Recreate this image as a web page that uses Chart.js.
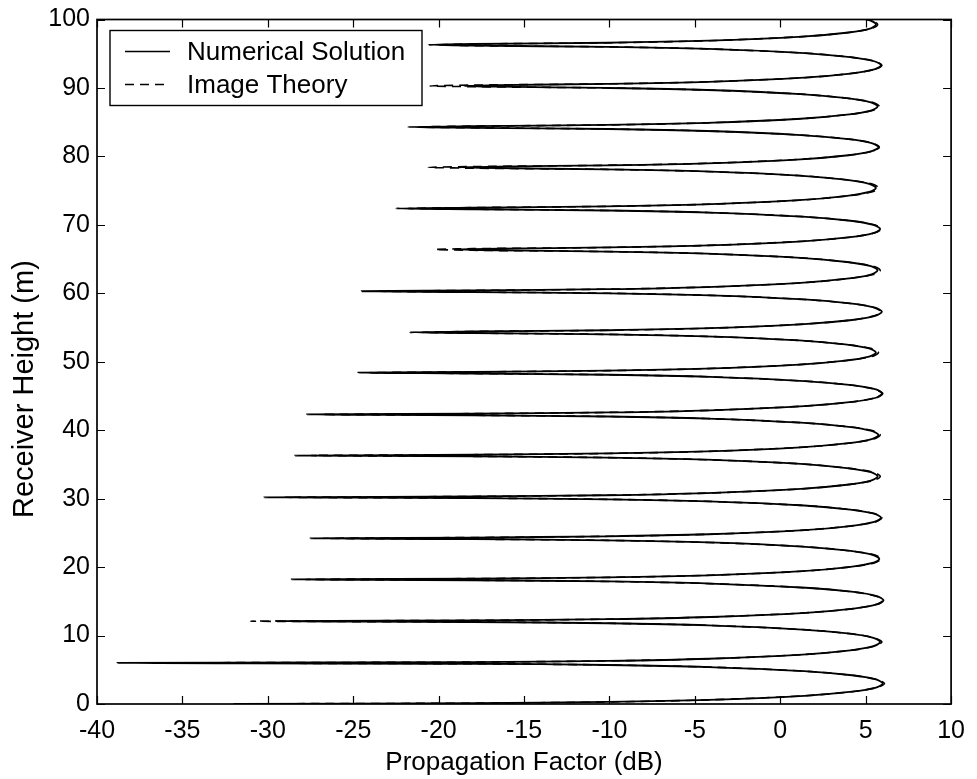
<!DOCTYPE html>
<html><head><meta charset="utf-8">
<script src="https://cdn.jsdelivr.net/npm/chart.js@4.4.1/dist/chart.umd.min.js"></script>
<style>html,body{margin:0;padding:0;background:#fff;}#wrap{width:977px;height:779px;}</style>
</head><body><div id="wrap"><canvas id="c" width="977" height="779"></canvas></div>
<script>
const seriesNames = ['Numerical Solution', 'Image Theory'];
const xTitle = 'Propagation Factor (dB)';
const yTitle = 'Receiver Height (m)';
const xRange = [-40, 10];
const yRange = [0, 100];

// receiver heights (m) shared by both curves
const heights = [
0.03, 0.12, 0.3, 0.6, 1.2, 1.8, 2.4, 3.0, 3.6, 4.2, 4.8, 5.4, 5.7, 5.88,
6.0, 6.12, 6.3, 6.61, 7.22, 7.83, 8.44, 9.05, 9.66, 10.27, 10.88, 11.49, 11.8, 11.98,
12.1, 12.22, 12.4, 12.71, 13.32, 13.93, 14.54, 15.15, 15.76, 16.37, 16.98, 17.59, 17.9, 18.08,
18.2, 18.32, 18.5, 18.8, 19.4, 20.0, 20.6, 21.2, 21.8, 22.4, 23.0, 23.6, 23.9, 24.08,
24.2, 24.32, 24.5, 24.8, 25.4, 26.0, 26.6, 27.2, 27.8, 28.4, 29.0, 29.6, 29.9, 30.08,
30.2, 30.32, 30.5, 30.81, 31.42, 32.03, 32.64, 33.25, 33.86, 34.47, 35.08, 35.69, 36.0, 36.18,
36.3, 36.42, 36.6, 36.9, 37.5, 38.1, 38.7, 39.3, 39.9, 40.5, 41.1, 41.7, 42.0, 42.18,
42.3, 42.42, 42.6, 42.91, 43.52, 44.13, 44.74, 45.35, 45.96, 46.57, 47.18, 47.79, 48.1, 48.28,
48.4, 48.52, 48.7, 48.99, 49.58, 50.17, 50.76, 51.35, 51.94, 52.53, 53.12, 53.71, 54.0, 54.18,
54.3, 54.42, 54.6, 54.9, 55.5, 56.1, 56.7, 57.3, 57.9, 58.5, 59.1, 59.7, 60.0, 60.18,
60.3, 60.42, 60.6, 60.91, 61.52, 62.13, 62.74, 63.35, 63.96, 64.57, 65.18, 65.79, 66.1, 66.28,
66.4, 66.52, 66.7, 67.0, 67.6, 68.2, 68.8, 69.4, 70.0, 70.6, 71.2, 71.8, 72.1, 72.28,
72.4, 72.52, 72.7, 73.0, 73.6, 74.2, 74.8, 75.4, 76.0, 76.6, 77.2, 77.8, 78.1, 78.28,
78.4, 78.52, 78.7, 78.99, 79.58, 80.17, 80.76, 81.35, 81.94, 82.53, 83.12, 83.71, 84.0, 84.18,
84.3, 84.42, 84.6, 84.9, 85.5, 86.1, 86.7, 87.3, 87.9, 88.5, 89.1, 89.7, 90.0, 90.18,
90.3, 90.42, 90.6, 90.9, 91.5, 92.1, 92.7, 93.3, 93.9, 94.5, 95.1, 95.7, 96.0, 96.18,
96.3, 96.42, 96.6, 96.9, 97.5, 98.1, 98.7, 99.3, 99.9, 100.5
];

// propagation factor (dB), numerical solution
const numerical = [
-32, -18, -10.1, -4.2, 1.4, 4.2, 5.6, 6.0, 5.6, 4.2, 1.4, -4.2, -10.1, -18,
-38.8, -18, -10.1, -4.2, 1.3, 4.1, 5.45, 5.85, 5.45, 4.1, 1.3, -4.2, -10.1, -18,
-29.5, -18, -10, -4.1, 1.5, 4.3, 5.65, 6.05, 5.65, 4.3, 1.5, -4.1, -10, -18,
-28.6, -18, -10.1, -4.2, 1.3, 4.0, 5.4, 5.8, 5.4, 4.0, 1.3, -4.2, -10.1, -18,
-27.5, -18, -10.1, -4.2, 1.4, 4.1, 5.5, 5.9, 5.5, 4.1, 1.4, -4.2, -10.1, -18,
-30.2, -18, -10.2, -4.3, 1.2, 3.9, 5.3, 5.7, 5.3, 3.9, 1.2, -4.3, -10.2, -18,
-28.4, -18, -10.1, -4.3, 1.2, 4.0, 5.35, 5.75, 5.35, 4.0, 1.2, -4.3, -10.1, -18,
-27.7, -18, -10, -4.1, 1.4, 4.2, 5.6, 6.0, 5.6, 4.2, 1.4, -4.1, -10, -18,
-24.7, -18, -10.2, -4.4, 1.1, 3.8, 5.2, 5.6, 5.2, 3.8, 1.1, -4.4, -10.2, -18,
-21.7, -18, -10, -4.1, 1.4, 4.2, 5.55, 5.95, 5.55, 4.2, 1.4, -4.1, -10, -18,
-24.5, -18, -10.2, -4.3, 1.2, 3.9, 5.3, 5.7, 5.3, 3.9, 1.2, -4.3, -10.2, -16.5,
-19.0, -16.5, -10.1, -4.2, 1.3, 4.1, 5.45, 5.85, 5.45, 4.1, 1.3, -4.2, -10.1, -18,
-22.5, -18, -10.2, -4.4, 1.1, 3.8, 5.2, 5.6, 5.2, 3.8, 1.1, -4.4, -10.2, -16.5,
-18.9, -16.5, -10.1, -4.3, 1.2, 4.0, 5.35, 5.75, 5.35, 4.0, 1.2, -4.3, -10.1, -18,
-21.8, -18, -10.2, -4.3, 1.2, 3.9, 5.3, 5.7, 5.3, 3.9, 1.2, -4.3, -10.2, -16.5,
-18.5, -16.5, -10.1, -4.2, 1.4, 4.1, 5.5, 5.9, 5.5, 4.1, 1.4, -4.2, -10.1, -18,
-20.6, -18, -10.1, -4.2, 1.3, 4.0, 5.3, 5.6, 5.2, 4.0
];

// propagation factor (dB), image theory
const imageTheory = [
-31, -18, -10.1, -4.2, 1.4, 4.2, 5.65, 6.1, 5.65, 4.2, 1.4, -4.2, -10.1, -18,
-36.8, -18, -10.1, -4.2, 1.3, 4.1, 5.5, 5.95, 5.5, 4.1, 1.3, -4.2, -10.1, -18,
-31.0, -18, -10, -4.1, 1.5, 4.3, 5.6, 6.0, 5.6, 4.3, 1.5, -4.1, -10, -18,
-27.8, -18, -10.1, -4.2, 1.3, 4.0, 5.5, 5.9, 5.5, 4.0, 1.3, -4.2, -10.1, -18,
-26.8, -18, -10.1, -4.2, 1.4, 4.1, 5.55, 5.95, 5.55, 4.1, 1.4, -4.2, -10.1, -18,
-29.0, -18, -10.2, -4.3, 1.2, 3.9, 5.45, 5.85, 5.45, 3.9, 1.2, -4.3, -10.2, -18,
-27.5, -18, -10.1, -4.3, 1.2, 4.0, 5.45, 5.85, 5.45, 4.0, 1.2, -4.3, -10.1, -18,
-26.8, -18, -10, -4.1, 1.4, 4.2, 5.55, 5.95, 5.55, 4.2, 1.4, -4.1, -10, -18,
-24.0, -18, -10.2, -4.4, 1.1, 3.8, 5.35, 5.75, 5.35, 3.8, 1.1, -4.4, -10.2, -18,
-21.0, -18, -10, -4.1, 1.4, 4.2, 5.5, 5.9, 5.5, 4.2, 1.4, -4.1, -10, -18,
-23.5, -18, -10.2, -4.3, 1.2, 3.9, 5.45, 5.85, 5.45, 3.9, 1.2, -4.3, -10.2, -18,
-20.2, -18, -10.1, -4.2, 1.3, 4.1, 5.5, 5.9, 5.5, 4.1, 1.3, -4.2, -10.1, -18,
-21.8, -18, -10.2, -4.4, 1.1, 3.8, 5.35, 5.75, 5.35, 3.8, 1.1, -4.4, -10.2, -18,
-20.6, -18, -10.1, -4.3, 1.2, 4.0, 5.4, 5.8, 5.4, 4.0, 1.2, -4.3, -10.1, -18,
-21.2, -18, -10.2, -4.3, 1.2, 3.9, 5.4, 5.8, 5.4, 3.9, 1.2, -4.3, -10.2, -18,
-20.5, -18, -10.1, -4.2, 1.4, 4.1, 5.55, 5.95, 5.55, 4.1, 1.4, -4.2, -10.1, -18,
-20.0, -18, -10.1, -4.2, 1.3, 4.0, 5.35, 5.7, 5.3, 4.0
];

const FONT = '"Liberation Sans", Arial, Helvetica, sans-serif';

const framePlugin = {
  id: 'matlabFrame',
  afterDatasetsDraw(chart) {
    const { ctx, chartArea: a, scales } = chart;
    ctx.save();
    ctx.strokeStyle = '#000';
    ctx.setLineDash([]);
    ctx.lineWidth = 1.2;
    ctx.beginPath();
    scales.x.ticks.forEach(t => {
      const px = Math.round(scales.x.getPixelForValue(t.value)) + 0.5;
      ctx.moveTo(px, a.bottom); ctx.lineTo(px, a.bottom - 8);
      ctx.moveTo(px, a.top); ctx.lineTo(px, a.top + 8);
    });
    scales.y.ticks.forEach(t => {
      const py = Math.round(scales.y.getPixelForValue(t.value)) + 0.5;
      ctx.moveTo(a.left, py); ctx.lineTo(a.left + 8, py);
      ctx.moveTo(a.right, py); ctx.lineTo(a.right - 8, py);
    });
    ctx.stroke();
    ctx.lineWidth = 1.7;
    ctx.strokeRect(a.left, a.top, a.right - a.left, a.bottom - a.top);

    // y-axis title, centred a little below the middle of the axis as in the original
    ctx.save();
    ctx.translate(25, scales.y.getPixelForValue(46));
    ctx.rotate(-Math.PI / 2);
    ctx.font = '29px ' + FONT;
    ctx.fillStyle = '#000';
    ctx.textAlign = 'center';
    ctx.textBaseline = 'middle';
    ctx.fillText(yTitle, 0, 0);
    ctx.restore();

    // legend box inside the axes
    const bx = a.left + 13, by = a.top + 11, bw = 312, bh = 75;
    ctx.fillStyle = '#fff';
    ctx.fillRect(bx, by, bw, bh);
    ctx.lineWidth = 1.4;
    ctx.strokeRect(bx, by, bw, bh);
    const ds = chart.data.datasets;
    const rows = [by + 21, by + 54];
    ctx.font = '26px ' + FONT;
    ctx.textBaseline = 'middle';
    ctx.fillStyle = '#000';
    ds.forEach((d, i) => {
      ctx.lineWidth = 1.6;
      ctx.setLineDash(d.borderDash || []);
      ctx.beginPath();
      ctx.moveTo(bx + 15, rows[i]);
      ctx.lineTo(bx + 60, rows[i]);
      ctx.stroke();
      ctx.setLineDash([]);
      ctx.fillText(d.label, bx + 77, rows[i] + 1);
    });
    ctx.restore();
  }
};

new Chart(document.getElementById('c'), {
  type: 'scatter',
  data: {
    datasets: [
      {
        label: seriesNames[0],
        data: heights.map((h, i) => ({ x: numerical[i], y: h })),
        showLine: true, borderColor: '#000', borderWidth: 1.8,
        pointRadius: 0, tension: 0.3, fill: false
      },
      {
        label: seriesNames[1],
        data: heights.map((h, i) => ({ x: imageTheory[i], y: h })),
        showLine: true, borderColor: '#000', borderWidth: 1.6, borderDash: [9, 6],
        pointRadius: 0, tension: 0.3, fill: false
      }
    ]
  },
  options: {
    responsive: false, animation: false, devicePixelRatio: 1,
    layout: { padding: { left: 0, right: 19, top: 17, bottom: 0 } },
    plugins: { legend: { display: false }, tooltip: { enabled: false } },
    scales: {
      x: {
        type: 'linear', min: xRange[0], max: xRange[1],
        grid: { display: false, drawTicks: false }, border: { display: false },
        ticks: { stepSize: 5, color: '#000', font: { family: FONT, size: 25 }, padding: 12, maxRotation: 0 },
        title: { display: true, text: xTitle, color: '#000', font: { family: FONT, size: 26 }, padding: { top: 0, bottom: 1 } },
        afterFit(s) { s.height = 75; }
      },
      y: {
        type: 'linear', min: yRange[0], max: yRange[1],
        grid: { display: false, drawTicks: false }, border: { display: false },
        ticks: { stepSize: 10, color: '#000', font: { family: FONT, size: 25, lineHeight: 1 }, padding: 7 },
        title: { display: false, text: yTitle },
        afterFit(s) { s.width = 97; }
      }
    }
  },
  plugins: [framePlugin]
});
</script>
</body></html>
